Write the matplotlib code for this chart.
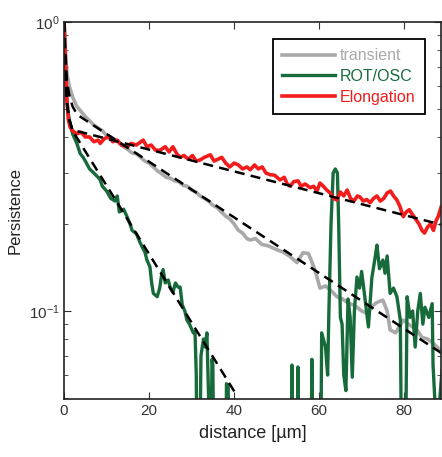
import numpy as np
import matplotlib
matplotlib.use("Agg")
import matplotlib.pyplot as plt
from matplotlib.ticker import LogLocator, NullFormatter

# transient (gray)
transient_x = [0, 0.3, 0.7, 1.2, 2, 3, 4, 5, 6, 7, 8, 9, 10, 11, 12, 13, 14, 15, 16, 17,
               18, 19, 20, 21, 22, 23, 24, 25, 26, 27, 28, 29, 30, 31, 32, 33, 34, 35, 36, 37,
               38, 39, 40, 41, 42, 43, 43.8, 45, 46.5, 48, 50, 51.5, 53, 54.8, 56.2, 57.5, 59,
               60.2, 61.5, 62.7, 64.2, 65.5, 66.6, 68, 68.9, 70, 71.3, 72.5, 73.6, 75, 76, 76.7,
               78, 79.8, 81, 82, 83, 84.2, 85.5, 86.5, 87.8, 88.7]
transient_y = [1.0, 0.8, 0.66, 0.6, 0.55, 0.51, 0.49, 0.47, 0.455, 0.44, 0.43, 0.42, 0.405,
               0.40, 0.39, 0.38, 0.37, 0.362, 0.352, 0.35, 0.34, 0.33, 0.325, 0.315, 0.305,
               0.298, 0.29, 0.288, 0.282, 0.28, 0.272, 0.27, 0.262, 0.258, 0.25, 0.245, 0.24,
               0.232, 0.228, 0.22, 0.213, 0.208, 0.2, 0.19, 0.186, 0.178, 0.176, 0.178, 0.17,
               0.168, 0.163, 0.16, 0.155, 0.147, 0.159, 0.158, 0.139, 0.12, 0.122, 0.118, 0.112,
               0.11, 0.107, 0.105, 0.103, 0.1, 0.098, 0.104, 0.107, 0.109, 0.1, 0.086, 0.084,
               0.093, 0.09, 0.088, 0.086, 0.081, 0.08, 0.078, 0.075, 0.072]

# ROT/OSC (green); 0.02 = below the visible range
rot_x = [0, 0.3, 0.6, 1, 1.5, 2, 3, 3.8, 4.5, 5, 6, 7, 8, 8.5, 9, 10, 11, 12, 12.5, 13, 14,
         14.8, 15.5, 16, 17, 17.9, 18.5, 19, 19.5, 20.2, 20.6, 21, 21.9, 22.5, 23, 23.3, 23.8,
         24.5, 25, 25.6, 26.2, 26.8, 27.3, 27.8, 28.4, 28.9, 29.5, 30.4, 30.8, 31.1, 31.3,
         31.8, 32.2, 32.8, 33.2, 33.6, 34.0, 34.4, 34.8, 35.0, 35.3, 36, 38, 38.2, 38.6, 39,
         53.3, 53.6, 54, 54.7, 55, 55.3, 58, 58.3, 58.6, 60.3, 60.6, 61.5, 62, 62.3, 62.8,
         63.3, 63.8, 64.3, 64.6, 65, 65.4, 65.8, 66.3, 66.8, 67.3, 67.8, 68.3, 68.9, 69.5, 70,
         70.8, 71.6, 72.4, 73.2, 73.6, 74.2, 75, 75.5, 76, 76.7, 77.5, 78.3, 79.1, 79.5, 80.2,
         80.7, 81.4, 82, 82.6, 83.2, 83.8, 84.4, 84.9, 85.8, 86.6, 86.8, 87.2, 87.8, 88.4, 88.9]
rot_y = [1.0, 0.75, 0.55, 0.48, 0.44, 0.41, 0.38, 0.35, 0.34, 0.33, 0.31, 0.30, 0.29, 0.284,
         0.27, 0.26, 0.245, 0.24, 0.25, 0.22, 0.225, 0.212, 0.2, 0.19, 0.185, 0.172, 0.165,
         0.16, 0.15, 0.142, 0.125, 0.115, 0.112, 0.12, 0.135, 0.139, 0.125, 0.128, 0.12, 0.116,
         0.125, 0.121, 0.121, 0.105, 0.1, 0.093, 0.09, 0.084, 0.085, 0.06, 0.02, 0.02, 0.07,
         0.08, 0.075, 0.084, 0.05, 0.02, 0.068, 0.065, 0.02, 0.02, 0.02, 0.056, 0.055, 0.02,
         0.02, 0.065, 0.02, 0.02, 0.064, 0.02, 0.02, 0.068, 0.02, 0.02, 0.084, 0.075, 0.06,
         0.1, 0.2, 0.3, 0.31, 0.30, 0.2, 0.095, 0.09, 0.06, 0.053, 0.11, 0.095, 0.059, 0.1,
         0.131, 0.12, 0.137, 0.11, 0.088, 0.13, 0.154, 0.169, 0.14, 0.15, 0.135, 0.155, 0.115,
         0.12, 0.112, 0.093, 0.02, 0.02, 0.112, 0.095, 0.1, 0.075, 0.1, 0.115, 0.09, 0.103,
         0.095, 0.106, 0.065, 0.05, 0.02, 0.05, 0.062]

# Elongation (red)
elong_x = [0, 0.3, 0.6, 1.0, 1.4, 2, 3, 4, 5, 6, 7, 8, 8.5, 9.5, 10.5, 11.5, 12.5, 13.5, 14.8,
           15.8, 17, 18.6, 19.5, 20.5, 21.5, 22.6, 23.8, 24.7, 25.6, 26.5, 27.3, 28.2, 29.2,
           30.2, 31.1, 32, 33, 34.4, 35.3, 36.2, 37.1, 38, 39, 40, 41, 42, 43, 43.8, 44.8, 45.7,
           46.6, 47.5, 48.5, 49.5, 50.8, 51.8, 52.5, 53.2, 54, 55, 55.8, 56.7, 57.9, 58.7, 59.5,
           60.2, 61, 61.8, 62.6, 63.4, 64.2, 65, 65.8, 66.6, 67.4, 68.2, 69, 69.6, 70.4, 71.2,
           72, 72.8, 73.6, 74.4, 75.2, 76, 76.8, 77.5, 78.3, 79, 79.8, 80.5, 81.2, 82, 82.8,
           83.5, 84.2, 84.8, 85.5, 86.2, 86.9, 87.5, 88, 88.7]
elong_y = [1.0, 0.75, 0.55, 0.46, 0.433, 0.42, 0.41, 0.415, 0.40, 0.40, 0.385, 0.39, 0.38,
           0.395, 0.40, 0.385, 0.39, 0.375, 0.37, 0.38, 0.375, 0.39, 0.37, 0.375, 0.36, 0.36,
           0.37, 0.355, 0.37, 0.35, 0.34, 0.345, 0.335, 0.345, 0.33, 0.333, 0.34, 0.347, 0.33,
           0.335, 0.34, 0.325, 0.315, 0.325, 0.32, 0.31, 0.315, 0.308, 0.32, 0.31, 0.315, 0.3,
           0.296, 0.295, 0.284, 0.29, 0.275, 0.27, 0.28, 0.282, 0.27, 0.275, 0.267, 0.27, 0.26,
           0.277, 0.27, 0.262, 0.256, 0.245, 0.242, 0.258, 0.25, 0.262, 0.245, 0.24, 0.25,
           0.248, 0.24, 0.243, 0.237, 0.245, 0.25, 0.24, 0.245, 0.256, 0.26, 0.25, 0.242, 0.23,
           0.212, 0.22, 0.224, 0.215, 0.207, 0.2, 0.19, 0.186, 0.195, 0.2, 0.19, 0.205, 0.212,
           0.229]

# fitted curves (dashed)
fit_transient_x = [0, 0.3, 0.7, 1.2, 2, 3, 4, 88.7]
fit_transient_y = [1.0, 0.75, 0.62, 0.56, 0.51, 0.48, 0.468, 0.0716]
fit_rot_x = [0, 0.3, 0.7, 1.2, 2, 40.5]
fit_rot_y = [1.0, 0.7, 0.52, 0.46, 0.42, 0.0514]
fit_elong_x = [0, 0.3, 0.7, 1.2, 2, 88.7]
fit_elong_y = [1.0, 0.7, 0.52, 0.46, 0.423, 0.199]


def main():
    plt.rcParams["font.family"] = ["Liberation Sans", "DejaVu Sans"]
    fig = plt.figure(figsize=(4.42, 4.57), dpi=100)
    ax = fig.add_axes([0.145, 0.127, 0.853, 0.825])

    gray, green, red = "#a9a9a9", "#176b3a", "#f21c1c"
    ax.plot(transient_x, transient_y, color=gray, lw=2.6, label="transient")
    ax.plot(rot_x, rot_y, color=green, lw=2.4, label="ROT/OSC")
    ax.plot(elong_x, elong_y, color=red, lw=2.6, label="Elongation")
    for fx, fy in [(fit_transient_x, fit_transient_y), (fit_rot_x, fit_rot_y),
                   (fit_elong_x, fit_elong_y)]:
        ax.plot(fx, fy, color="black", lw=1.8, ls=(0, (4, 2.5)))

    ax.set_yscale("log")
    ax.set_xlim(0, 88.7)
    ax.set_ylim(0.0496, 1.0)
    ax.set_xticks([0, 20, 40, 60, 80])
    ax.yaxis.set_major_locator(LogLocator(base=10, numticks=5))
    ax.yaxis.set_minor_locator(LogLocator(base=10, subs=np.arange(2, 10), numticks=20))
    ax.yaxis.set_minor_formatter(NullFormatter())
    ax.tick_params(which="both", direction="in", top=True, right=True, labelsize=11,
                   colors="#333333")
    ax.tick_params(which="major", length=5)
    ax.tick_params(which="minor", length=3)
    for s in ax.spines.values():
        s.set_linewidth(1.2)
        s.set_color("#222222")

    ax.set_xlabel("distance [\u00b5m]", fontsize=13, color="#222222", labelpad=5)
    ax.set_ylabel("Persistence", fontsize=12, color="#222222", labelpad=4)

    leg = ax.legend(loc="upper right", bbox_to_anchor=(0.957, 0.955), fontsize=11.5,
                    frameon=True, fancybox=False, edgecolor="black", framealpha=1,
                    handlelength=3.3, handletextpad=0.3, labelspacing=0.35,
                    borderpad=0.6, borderaxespad=0)
    leg.get_frame().set_linewidth(1.3)
    for txt, c in zip(leg.get_texts(), [gray, green, red]):
        txt.set_color(c)

    fig.savefig("out.png", dpi=100)
    plt.close(fig)


if __name__ == "__main__":
    main()
